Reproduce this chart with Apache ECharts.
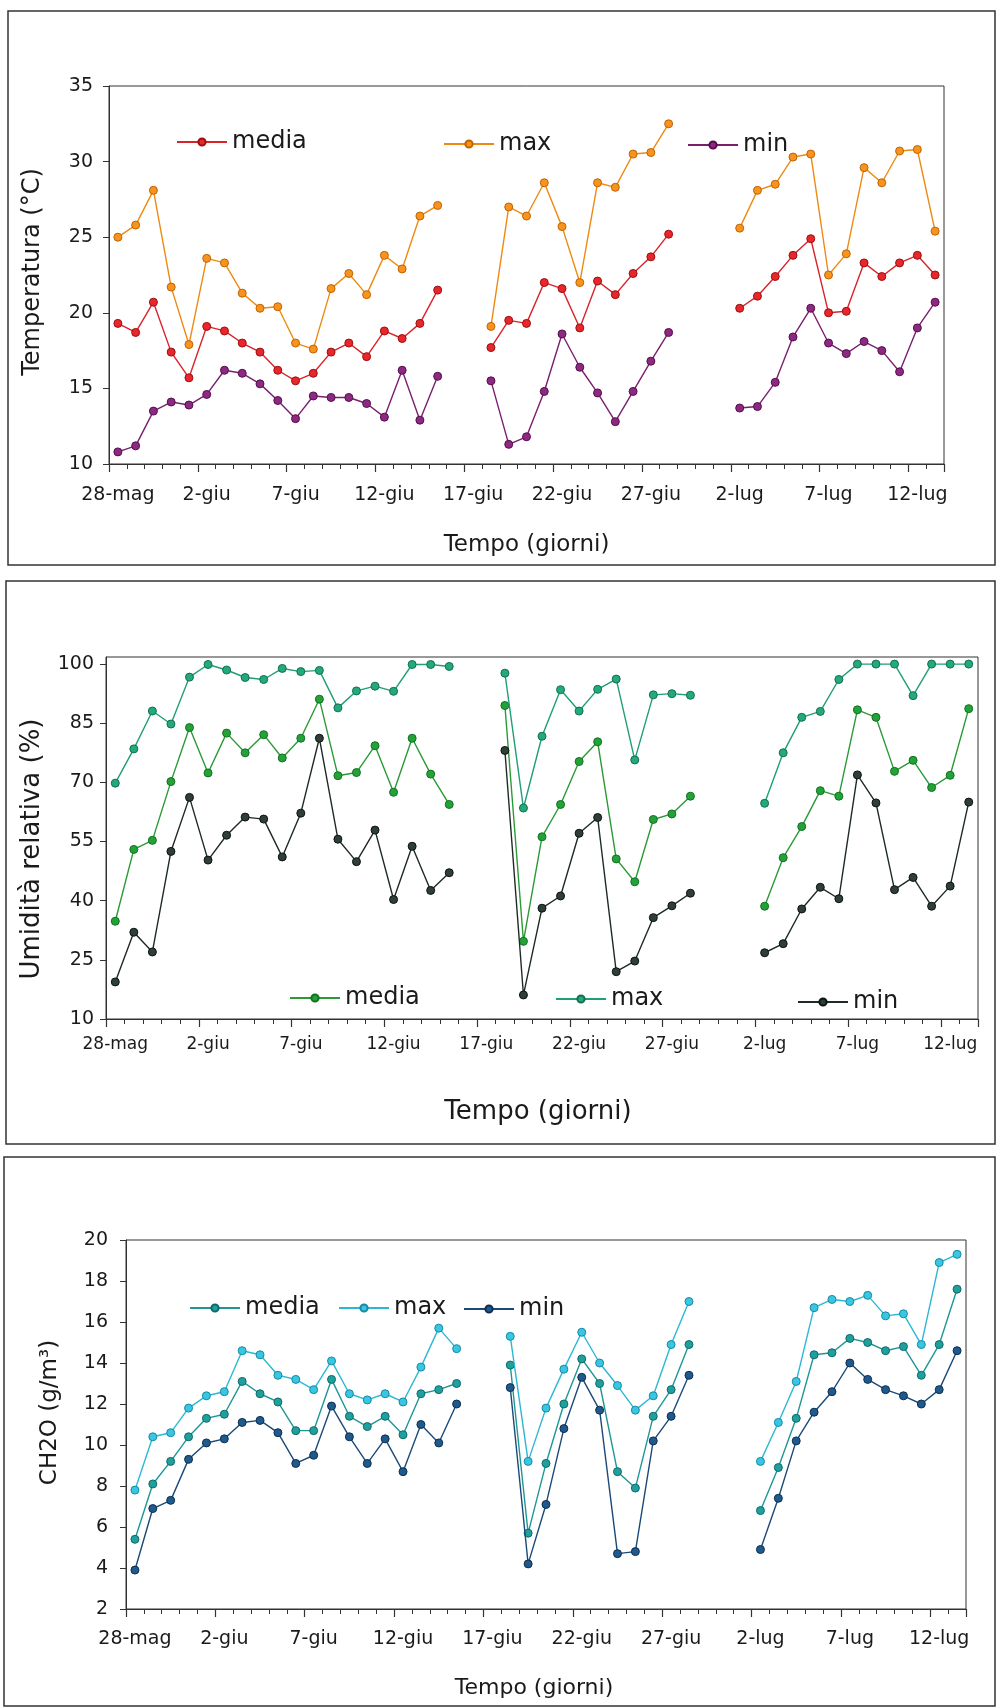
<!DOCTYPE html>
<html><head><meta charset="utf-8">
<script src="https://cdn.jsdelivr.net/npm/echarts@6/dist/echarts.min.js"></script>
<style>html,body{margin:0;padding:0;background:#fff}#c{width:997px;height:1708px}</style>
</head><body><div id="c"></div>
<script>
// Categories: one per day, 28-mag .. 13-lug
const days = ['28-mag','29-mag','30-mag','31-mag',
 '1-giu','2-giu','3-giu','4-giu','5-giu','6-giu','7-giu','8-giu','9-giu','10-giu',
 '11-giu','12-giu','13-giu','14-giu','15-giu','16-giu','17-giu','18-giu','19-giu','20-giu',
 '21-giu','22-giu','23-giu','24-giu','25-giu','26-giu','27-giu','28-giu','29-giu','30-giu',
 '1-lug','2-lug','3-lug','4-lug','5-lug','6-lug','7-lug','8-lug','9-lug','10-lug','11-lug','12-lug','13-lug'];

// Temperatura (°C)
const tempMedia = [19.3,18.7,20.7,17.4,15.7,19.1,18.8,18.0,17.4,16.2,15.5,16.0,17.4,18.0,17.1,18.8,18.3,19.3,21.5,null,null,17.7,19.5,19.3,22.0,21.6,19.0,22.1,21.2,22.6,23.7,25.2,null,null,null,20.3,21.1,22.4,23.8,24.9,20.0,20.1,23.3,22.4,23.3,23.8,22.5];
const tempMax = [25.0,25.8,28.1,21.7,17.9,23.6,23.3,21.3,20.3,20.4,18.0,17.6,21.6,22.6,21.2,23.8,22.9,26.4,27.1,null,null,19.1,27.0,26.4,28.6,25.7,22.0,28.6,28.3,30.5,30.6,32.5,null,null,null,25.6,28.1,28.5,30.3,30.5,22.5,23.9,29.6,28.6,30.7,30.8,25.4];
const tempMin = [10.8,11.2,13.5,14.1,13.9,14.6,16.2,16.0,15.3,14.2,13.0,14.5,14.4,14.4,14.0,13.1,16.2,12.9,15.8,null,null,15.5,11.3,11.8,14.8,18.6,16.4,14.7,12.8,14.8,16.8,18.7,null,null,null,13.7,13.8,15.4,18.4,20.3,18.0,17.3,18.1,17.5,16.1,19.0,20.7];

// Umidità relativa (%)
const humMedia = [34.8,53.0,55.3,70.2,83.9,72.4,82.5,77.5,82.1,76.2,81.2,91.1,71.7,72.5,79.3,67.5,81.2,72.1,64.4,null,null,89.5,29.7,56.2,64.4,75.3,80.3,50.6,44.8,60.6,62.0,66.5,null,null,null,38.6,50.9,58.8,67.9,66.5,88.4,86.5,72.8,75.6,68.7,71.8,88.7];
const humMax = [69.8,78.5,88.1,84.8,96.7,99.9,98.5,96.6,96.1,98.9,98.1,98.4,88.9,93.2,94.4,93.1,99.9,99.9,99.4,null,null,97.7,63.5,81.7,93.5,88.1,93.6,96.2,75.7,92.2,92.5,92.1,null,null,null,64.7,77.5,86.5,88.0,96.1,100,100,100,92.0,100,100,100];
const humMin = [19.4,32.0,27.0,52.5,66.2,50.3,56.6,61.2,60.7,51.1,62.2,81.2,55.6,49.9,57.9,40.3,53.8,42.6,47.1,null,null,78.1,16.1,38.1,41.2,57.1,61.1,22.0,24.7,35.7,38.7,41.9,null,null,null,26.8,29.1,37.9,43.4,40.5,71.9,64.8,42.8,45.9,38.6,43.7,65.0];

// CH2O (g/m³)
const ch2oMedia = [5.4,8.1,9.2,10.4,11.3,11.5,13.1,12.5,12.1,10.7,10.7,13.2,11.4,10.9,11.4,10.5,12.5,12.7,13.0,null,null,13.9,5.7,9.1,12.0,14.2,13.0,8.7,7.9,11.4,12.7,14.9,null,null,null,6.8,8.9,11.3,14.4,14.5,15.2,15.0,14.6,14.8,13.4,14.9,17.6];
const ch2oMax = [7.8,10.4,10.6,11.8,12.4,12.6,14.6,14.4,13.4,13.2,12.7,14.1,12.5,12.2,12.5,12.1,13.8,15.7,14.7,null,null,15.3,9.2,11.8,13.7,15.5,14.0,12.9,11.7,12.4,14.9,17.0,null,null,null,9.2,11.1,13.1,16.7,17.1,17.0,17.3,16.3,16.4,14.9,18.9,19.3];
const ch2oMin = [3.9,6.9,7.3,9.3,10.1,10.3,11.1,11.2,10.6,9.1,9.5,11.9,10.4,9.1,10.3,8.7,11.0,10.1,12.0,null,null,12.8,4.2,7.1,10.8,13.3,11.7,4.7,4.8,10.2,11.4,13.4,null,null,null,4.9,7.4,10.2,11.6,12.6,14.0,13.2,12.7,12.4,12.0,12.7,14.6];

const seriesNames = ['media','max','min'];
const xTitle = 'Tempo (giorni)';

const FONT = 'DejaVu Sans';
const TXT = '#1a1a1a';
const AX = '#333';

const panels = [
  { key:'T', grid:{left:109, top:86, width:835, height:378},
    y:{min:10, max:35, interval:5, step:5, base:10}, yName:'Temperatura (°C)',
    yNameSize:24, yNameGap:64, yNamePad:[0,0,0,6], yLabelSize:19, yLabelMargin:16,
    xLabelSize:19, xLabelMargin:22, xNameSize:23, xNameGap:70, xNamePad:[0,0,0,0],
    data:[tempMedia, tempMax, tempMin],
    colors:[['#d8232a','#e8262c','#9a1010'],['#ee8a12','#f7931e','#c06400'],['#7a1e6e','#8c2a82','#560e4c']],
    legends:[[176,128],[443,130],[687,131]] },
  { key:'UR', grid:{left:106, top:657, width:872, height:362},
    y:{min:10, max:101.8, interval:15, step:15, base:10}, yName:'Umidità relativa (%)',
    yNameSize:26, yNameGap:61, yNamePad:[0,22,0,0], yLabelSize:19, yLabelMargin:12,
    xLabelSize:17, xLabelMargin:17, xNameSize:26, xNameGap:80, xNamePad:[0,8,0,0],
    data:[humMedia, humMax, humMin],
    colors:[['#2a9a35','#24a23a','#137020'],['#1f9e78','#23aa78','#117050'],['#1e2a26','#2f3e37','#0c1410']],
    legends:[[289,984],[555,985],[797,988]] },
  { key:'CH2O', grid:{left:126, top:1240, width:840, height:369},
    y:{min:2, max:20, interval:2, step:2, base:2}, yName:'CH2O (g/m³)',
    yNameSize:23, yNameGap:64, yNamePad:[0,0,0,24], yLabelSize:19, yLabelMargin:18,
    xLabelSize:19, xLabelMargin:21, xNameSize:22, xNameGap:68, xNamePad:[0,24,0,0],
    data:[ch2oMedia, ch2oMax, ch2oMin],
    colors:[['#1e9696','#1fa09c','#0e6a6a'],['#2bb8d4','#38c6e2','#168aa2'],['#1b4a78','#205a8c','#0c2e50']],
    legends:[[189,1294],[338,1294],[463,1295]] }
];

const option = {
  animation:false,
  backgroundColor:'#fff',
  grid:[], xAxis:[], yAxis:[], series:[], legend:[],
  graphic:[
    {type:'rect', shape:{x:8, y:11, width:987, height:554}, style:{fill:'none', stroke:'#333', lineWidth:1.5}, silent:true},
    {type:'rect', shape:{x:6, y:581, width:989, height:563}, style:{fill:'none', stroke:'#333', lineWidth:1.5}, silent:true},
    {type:'rect', shape:{x:4, y:1157, width:991, height:549}, style:{fill:'none', stroke:'#333', lineWidth:1.5}, silent:true}
  ]
};

panels.forEach((p, gi) => {
  option.grid.push(Object.assign({show:true, borderColor:AX, borderWidth:1, backgroundColor:'transparent', containLabel:false}, p.grid));
  // main category axis
  option.xAxis.push({
    gridIndex:gi, type:'category', data:days, boundaryGap:true,
    axisLine:{show:true, lineStyle:{color:AX, width:1}},
    axisTick:{show:true, interval:0, length:5, lineStyle:{color:AX, width:1}},
    axisLabel:{interval:4, fontSize:p.xLabelSize, fontFamily:FONT, color:TXT, margin:p.xLabelMargin},
    splitLine:{show:false},
    name:xTitle, nameLocation:'middle', nameGap:p.xNameGap,
    nameTextStyle:{fontSize:p.xNameSize, fontFamily:FONT, color:TXT, padding:p.xNamePad}
  });
  // longer ticks every 5 days
  option.xAxis.push({
    gridIndex:gi, type:'category', data:days, boundaryGap:true, position:'bottom',
    axisLine:{show:false}, axisLabel:{show:false}, splitLine:{show:false},
    axisTick:{show:true, interval:4, length:8, lineStyle:{color:AX, width:1.2}}
  });
  option.yAxis.push({
    gridIndex:gi, type:'value', min:p.y.min, max:p.y.max, interval:p.y.interval,
    axisLine:{show:true, lineStyle:{color:AX, width:1}},
    axisTick:{show:true, length:6, lineStyle:{color:AX}},
    splitLine:{show:false},
    axisLabel:{fontSize:p.yLabelSize, fontFamily:FONT, color:TXT, margin:p.yLabelMargin, showMaxLabel: p.key!=='UR',
      formatter: v => (Math.abs(((v - p.y.base) / p.y.step) - Math.round((v - p.y.base) / p.y.step)) < 1e-6) ? String(v) : ''},
    name:p.yName, nameLocation:'middle', nameGap:p.yNameGap, nameRotate:90,
    nameTextStyle:{fontSize:p.yNameSize, fontFamily:FONT, color:TXT, padding:p.yNamePad}
  });
  p.data.forEach((arr, si) => {
    const c = p.colors[si];
    const nm = p.key + '|' + seriesNames[si];
    option.series.push({
      type:'line', name:nm, xAxisIndex:gi*2, yAxisIndex:gi, data:arr,
      connectNulls:false, symbol:'circle', symbolSize:8, showSymbol:true,
      lineStyle:{color:c[0], width:1.4},
      itemStyle:{color:c[1], borderColor:c[2], borderWidth:1},
      emphasis:{disabled:true}, z:3+si
    });
    const lg = p.legends[si];
    option.legend.push({
      data:[nm], left:lg[0], top:lg[1], padding:0, itemWidth:50, itemHeight:9,
      selectedMode:false, formatter: n => n.split('|')[1],
      textStyle:{fontSize:24, fontFamily:FONT, color:TXT, lineHeight:28}
    });
  });
});

const chart = echarts.init(document.getElementById('c'), null, {renderer:'canvas'});
chart.setOption(option);
</script></body></html>
